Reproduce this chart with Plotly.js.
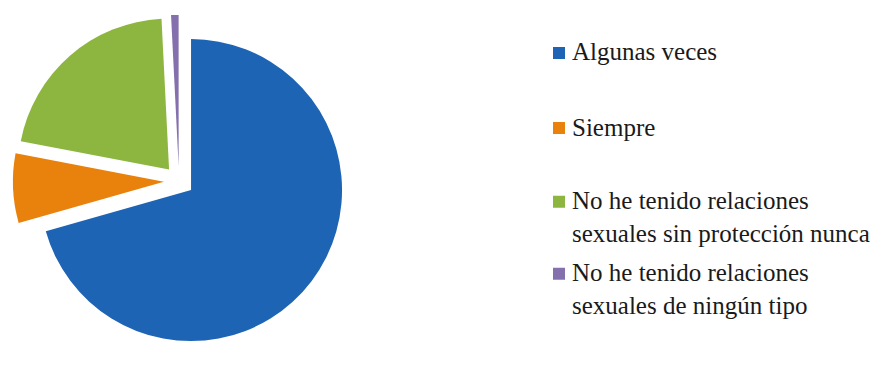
<!DOCTYPE html>
<html>
<head>
<meta charset="utf-8">
<script src="https://cdn.plot.ly/plotly-3.0.1.min.js"></script>
<style>html,body{margin:0;padding:0;background:#fff;}#chart{width:892px;height:369px;}</style>
</head>
<body>
<div id="chart"></div>
<script>
// Data
const categories = [
  "Algunas veces",
  "Siempre",
  "No he tenido relaciones sexuales sin protección nunca",
  "No he tenido relaciones sexuales de ningún tipo"
];
const values = [70.6, 7.4, 21.2, 0.8];
const legendLines = [
  ["Algunas veces"],
  ["Siempre"],
  ["No he tenido relaciones", "sexuales sin protección nunca"],
  ["No he tenido relaciones", "sexuales de ningún tipo"]
];
const colors = ["#1E64B4", "#E8820C", "#8DB640", "#8470AC"];

const W = 892, H = 369;
const FS = 25;
const trace = {
  type: "pie",
  labels: categories,
  values: values,
  sort: false,
  direction: "clockwise",
  rotation: 0,
  pull: [0.1, 0.1, 0.1, 0.1],
  marker: { colors: colors, line: { width: 0 } },
  textinfo: "none",
  hoverinfo: "label+percent",
  showlegend: false,
  domain: { x: [12.9 / W, 345.1 / W], y: [1 - 347.1 / H, 1 - 14.9 / H] }
};

// Legend drawn with shapes + annotations (layout positions)
const entryCenterY = [53, 128, 218, 290];
const lineGap = FS * 1.3;
const annotations = [];
const shapes = [];
legendLines.forEach((lines, i) => {
  const cy = entryCenterY[i];
  annotations.push({
    xref: "paper", yref: "paper",
    x: 570 / W, y: 1 - (cy - 1) / H,
    xanchor: "left", yanchor: "middle", align: "left",
    text: lines.join("<br>"), showarrow: false,
    font: { family: "Times New Roman", size: FS, color: "#1a1a1a" }
  });
  const sy = cy - (lines.length - 1) * lineGap / 2;
  shapes.push({
    type: "rect", xref: "paper", yref: "paper",
    x0: 553 / W, x1: 565 / W, y0: 1 - (sy + 6) / H, y1: 1 - (sy - 6) / H,
    fillcolor: colors[i], line: { width: 0 }
  });
});

const layout = {
  width: W, height: H,
  margin: { l: 0, r: 0, t: 0, b: 0 },
  paper_bgcolor: "#ffffff",
  showlegend: false,
  annotations: annotations,
  shapes: shapes
};

Plotly.newPlot("chart", [trace], layout, { displayModeBar: false, staticPlot: true });
</script>
</body>
</html>
